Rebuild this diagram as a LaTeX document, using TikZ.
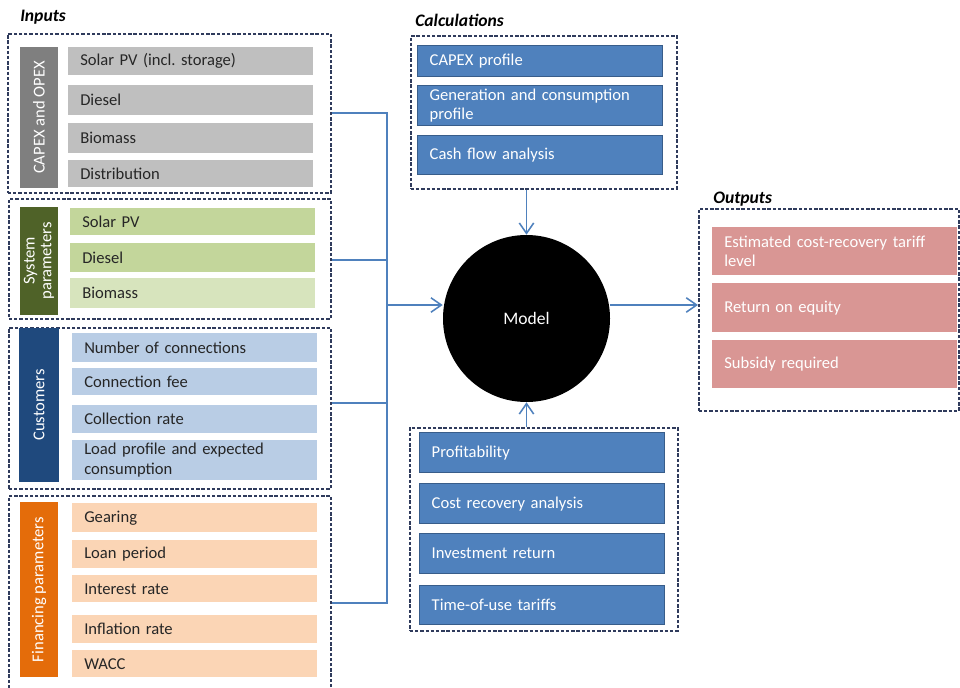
\documentclass[tikz,border=0pt]{standalone}
\usepackage{fontspec}
\setmainfont{Carlito}
\usetikzlibrary{arrows.meta}

\definecolor{grpline}{HTML}{2F3B5C}
\definecolor{linkcol}{HTML}{4F81BD}
\definecolor{itemtext}{HTML}{262626}
\definecolor{capexfill}{HTML}{BFBFBF}
\definecolor{capexdark}{HTML}{7F7F7F}
\definecolor{sysfill}{HTML}{C3D69B}
\definecolor{syslight}{HTML}{D7E4BD}
\definecolor{sysdark}{HTML}{4F6228}
\definecolor{custfill}{HTML}{B9CDE5}
\definecolor{custdark}{HTML}{1F497D}
\definecolor{finfill}{HTML}{FBD5B5}
\definecolor{findark}{HTML}{E46C0A}
\definecolor{calcfill}{HTML}{4F81BD}
\definecolor{calcline}{HTML}{385D8A}
\definecolor{outfill}{HTML}{D99694}

\newcommand{\itemfont}{\fontsize{11.8}{14}\selectfont}
\newcommand{\headfont}{\fontsize{12.5}{14}\selectfont\bfseries\itshape}

\begin{document}
\begin{tikzpicture}[x=0.25mm, y=-0.25mm,
    grp/.style={draw=grpline, line width=1.3pt, dash pattern=on 2.4pt off 1.3pt, inner sep=0pt, anchor=north west},
    side/.style={rotate=90, text=white, align=center, inner sep=0pt, font=\itemfont},
    item/.style={anchor=north west, inner xsep=3mm, inner ysep=0pt, text width=55.25mm, align=left, font=\itemfont, text=itemtext},
    calc/.style={item, fill=calcfill, draw=calcline, line width=1pt, text=white},
    outp/.style={item, fill=outfill, text=white},
    head/.style={anchor=west, inner sep=0pt, font=\headfont},
    link/.style={draw=linkcol, line width=1.1pt},
    >={Straight Barb[length=2.6mm, width=3.6mm]}]
    \useasboundingbox (0,0) rectangle (960,687);
    \fill[white] (0,0) rectangle (960,687);
    \clip (0,0) rectangle (960,687);

    % inputs
    \node[head](inTitle) at (20,17) {Inputs};
    \node[grp, minimum width=80.75mm, minimum height=39.75mm](capex) at (7,33) {};
    \node[side, fill=capexdark, minimum width=35.25mm, minimum height=9.5mm](capexLbl) at (39,117.5) {CAPEX and OPEX};
    \node[item, fill=capexfill, minimum height=7mm](capexSolar) at (68,47) {Solar PV (incl.\ storage)};
    \node[item, fill=capexfill, minimum height=7.5mm](capexDiesel) at (68,85) {Diesel};
    \node[item, fill=capexfill, minimum height=7.5mm](capexBiomass) at (68,123) {Biomass};
    \node[item, fill=capexfill, minimum height=6.75mm](capexDist) at (68,160) {Distribution};

    \node[grp, minimum width=80.5mm, minimum height=30mm](sys) at (8,198) {};
    \node[side, fill=sysdark, minimum width=27mm, minimum height=9.5mm](sysLbl) at (39,261) {System\\[-2pt]parameters};
    \node[item, fill=sysfill, minimum height=6.75mm](sysSolar) at (70,208) {Solar PV};
    \node[item, fill=sysfill, minimum height=7.25mm](sysDiesel) at (70,243) {Diesel};
    \node[item, fill=syslight, minimum height=7.5mm](sysBiomass) at (70,278) {Biomass};

    \node[grp, minimum width=80.5mm, minimum height=40.25mm](cust) at (8,327) {};
    \node[side, fill=custdark, minimum width=38.5mm, minimum height=10mm](custLbl) at (39,405) {Customers};
    \node[item, fill=custfill, minimum height=7.25mm](custConn) at (72,333) {Number of connections};
    \node[item, fill=custfill, minimum height=6.75mm](custFee) at (72,368) {Connection fee};
    \node[item, fill=custfill, minimum height=7mm](custRate) at (72,405) {Collection rate};
    \node[item, fill=custfill, minimum height=10mm](custLoad) at (72,440) {Load profile and expected\\consumption};

    \node[grp, minimum width=80.5mm, minimum height=49.25mm](fin) at (8,495) {};
    \node[side, fill=findark, minimum width=43.75mm, minimum height=9.5mm](finLbl) at (39,589.5) {Financing parameters};
    \node[item, fill=finfill, minimum height=7.25mm](finGear) at (72,503) {Gearing};
    \node[item, fill=finfill, minimum height=7mm](finLoan) at (72,540) {Loan period};
    \node[item, fill=finfill, minimum height=6.75mm](finRate) at (72,575) {Interest rate};
    \node[item, fill=finfill, minimum height=7mm](finInfl) at (72,615) {Inflation rate};
    \node[item, fill=finfill, minimum height=6.75mm](finWacc) at (72,650) {WACC};

    % calculations
    \node[head](calcTitle) at (415,20) {Calculations};
    \node[grp, minimum width=66.5mm, minimum height=38.25mm](calcA) at (410,35) {};
    \node[calc, minimum height=7.75mm](calcCapex) at (417,45) {CAPEX profile};
    \node[calc, minimum height=10mm](calcGen) at (417,85) {Generation and consumption\\profile};
    \node[calc, minimum height=9.75mm](calcCash) at (417,135) {Cash flow analysis};

    \node[grp, minimum width=67mm, minimum height=50.75mm](calcB) at (409,427) {};
    \node[calc, minimum height=10mm](calcProfit) at (419,432) {Profitability};
    \node[calc, minimum height=10mm](calcCost) at (419,483) {Cost recovery analysis};
    \node[calc, minimum height=10mm](calcInvest) at (419,533) {Investment return};
    \node[calc, minimum height=9.75mm](calcTou) at (419,585) {Time-of-use tariffs};

    \node[circle, fill=black, text=white, inner sep=0pt, minimum size=41.75mm, font=\fontsize{12.5}{14}\selectfont](model) at (526.5,318.5) {Model};

    % outputs
    \node[head](outTitle) at (713,199) {Outputs};
    \node[grp, minimum width=65mm, minimum height=50.5mm](outs) at (698,208) {};
    \node[outp, minimum height=12mm](outTariff) at (712,227) {Estimated cost-recovery tariff\\level};
    \node[outp, minimum height=12.25mm](outReturn) at (712,283) {Return on equity};
    \node[outp, minimum height=12mm](outSubsidy) at (712,340) {Subsidy required};

    % bus from the inputs
    \coordinate (j1) at (387,113);
    \coordinate (j2) at (387,260);
    \coordinate (j3) at (387,403);
    \coordinate (j4) at (387,603);
    \coordinate (jm) at (387,305);
    \draw[link] (capex.east |- j1) -- (j1) -- (j4) -- (fin.east |- j4);
    \draw[link] (sys.east |- j2) -- (j2);
    \draw[link] (cust.east |- j3) -- (j3);

    \draw[link, ->] (jm) -- (model.west |- jm);
    \draw[link, ->] (model.east |- jm) -- (outs.west |- jm);
    \draw[link, ->] (model.north |- calcA.south) -- (model.north);
    \draw[link, ->] (model.south |- calcB.north) -- (model.south);
\end{tikzpicture}
\end{document}
